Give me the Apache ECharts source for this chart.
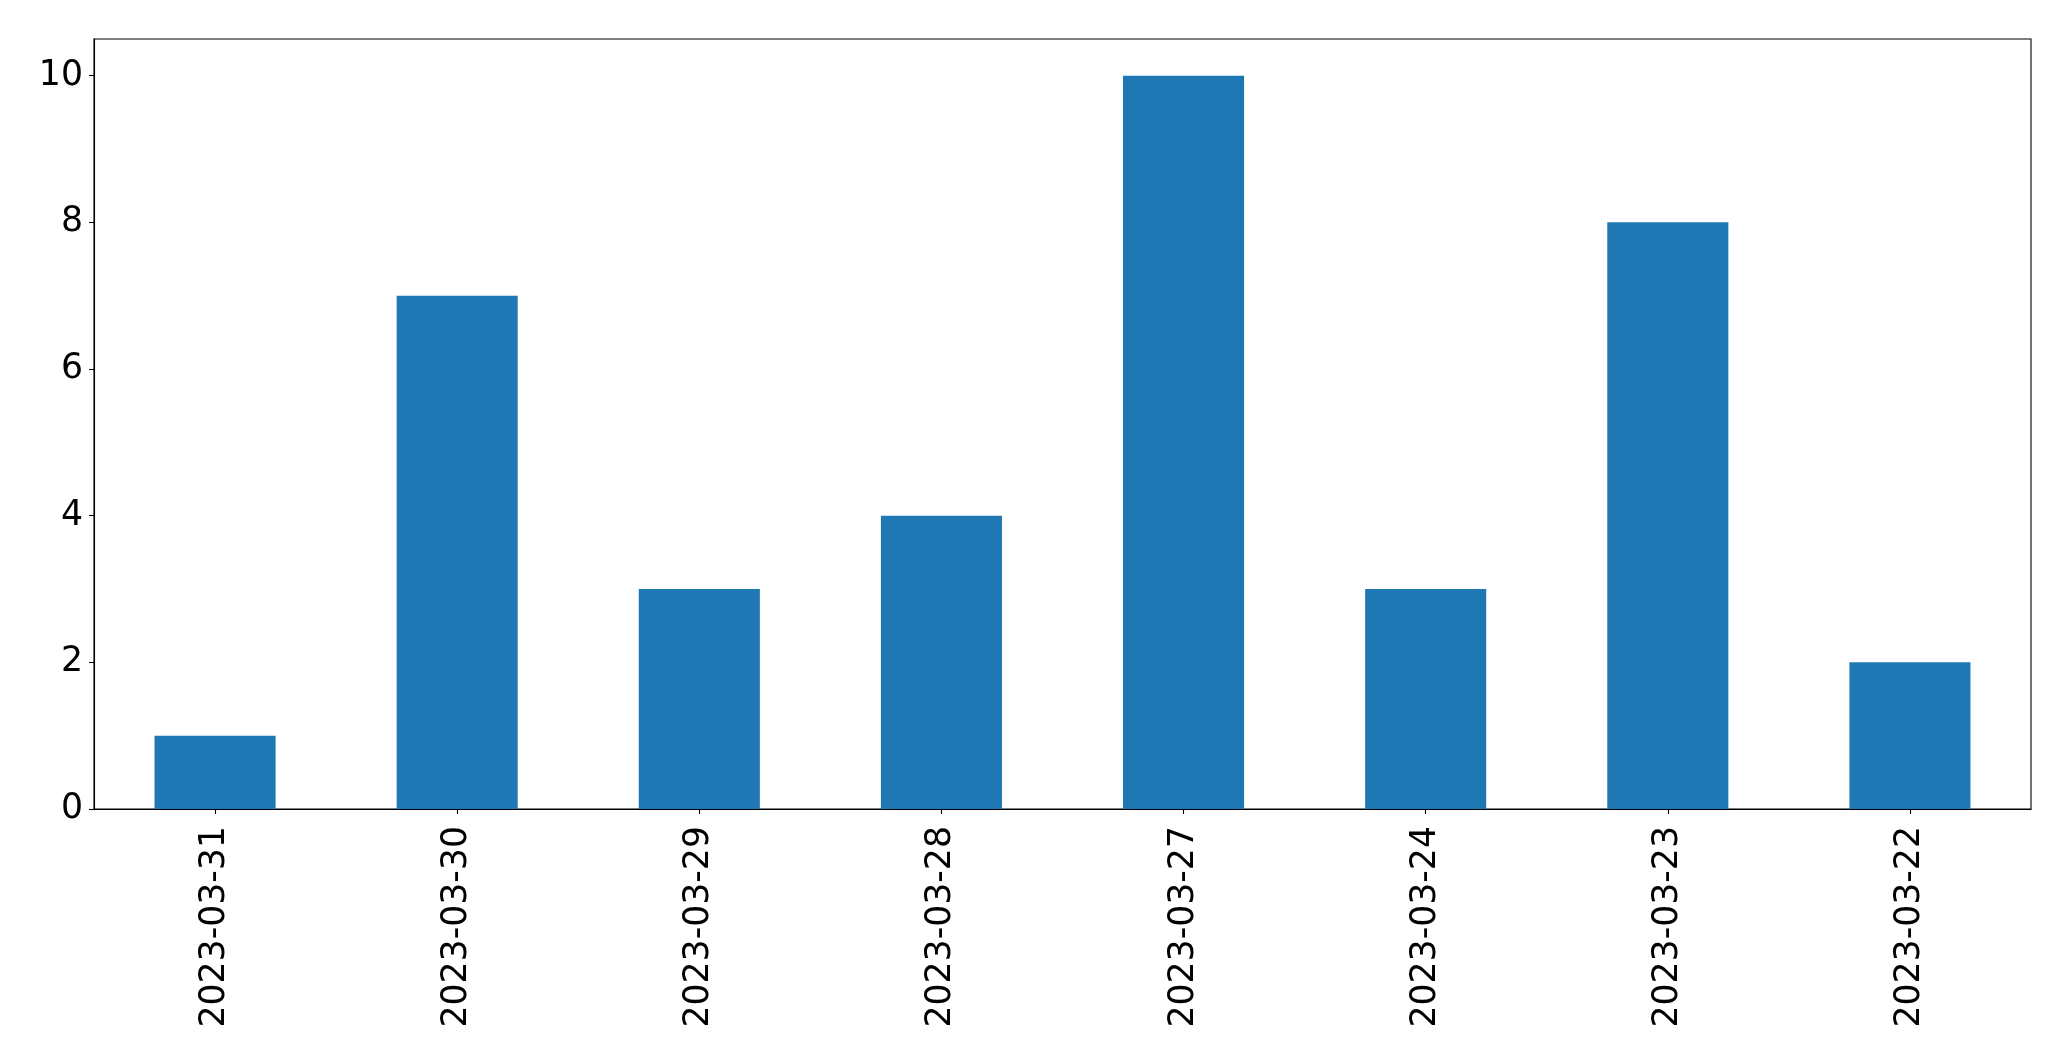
<!DOCTYPE html>
<html>
<head>
<meta charset="utf-8">
<script src="https://cdn.jsdelivr.net/npm/echarts@6/dist/echarts.min.js"></script>
<style>
html,body{margin:0;padding:0;background:#fff;}
#chart{width:2071px;height:1061px;}
</style>
</head>
<body>
<div id="chart"></div>
<script>
const categories = ['2023-03-31','2023-03-30','2023-03-29','2023-03-28','2023-03-27','2023-03-24','2023-03-23','2023-03-22'];
const values = [1, 7, 3, 4, 10, 3, 8, 2];
const yTicks = [0, 2, 4, 6, 8, 10];

const chart = echarts.init(document.getElementById('chart'), null, {renderer: 'canvas'});
chart.setOption({
  animation: false,
  backgroundColor: '#ffffff',
  textStyle: {fontFamily: 'DejaVu Sans'},
  grid: {
    left: 94, right: 40, top: 39, bottom: 252,
    show: true, borderColor: '#000', borderWidth: 1.1, backgroundColor: 'transparent'
  },
  xAxis: {
    type: 'category',
    data: categories,
    boundaryGap: true,
    axisLine: {show: true, lineStyle: {color: '#000', width: 1.1}},
    axisTick: {show: true, alignWithLabel: true, length: 5, lineStyle: {color: '#000', width: 1.1}},
    axisLabel: {rotate: 90, margin: 17, fontSize: 34.7, color: '#000', fontFamily: 'DejaVu Sans'},
    splitLine: {show: false}
  },
  yAxis: {
    type: 'value',
    min: 0, max: 10.5,
    axisLine: {show: true, lineStyle: {color: '#000', width: 1.1}},
    axisTick: {show: true, length: 5, customValues: yTicks, lineStyle: {color: '#000', width: 1.1}},
    axisLabel: {margin: 11, fontSize: 34.7, color: '#000', fontFamily: 'DejaVu Sans', customValues: yTicks},
    splitLine: {show: false}
  },
  series: [{
    type: 'bar',
    data: values,
    barWidth: '50%',
    itemStyle: {color: '#1f77b4'}
  }]
});
</script>
</body>
</html>
